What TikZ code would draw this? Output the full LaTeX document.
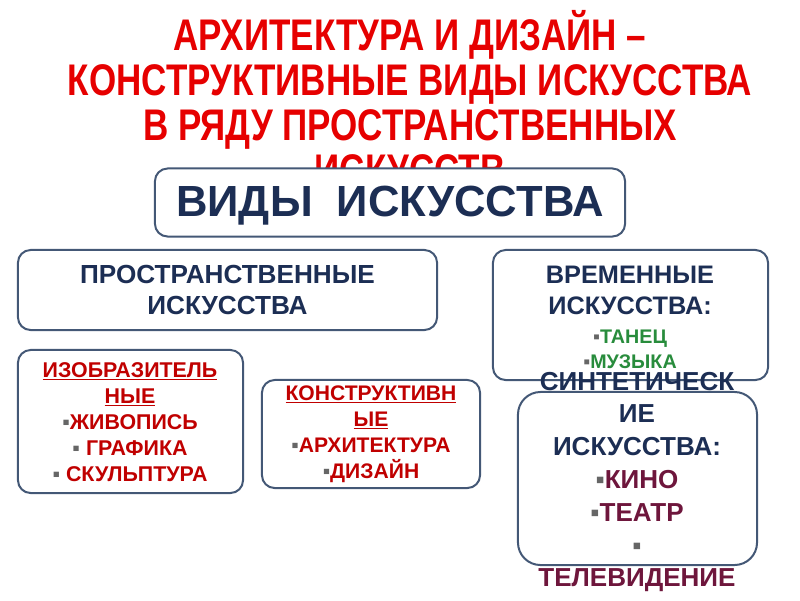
\documentclass[tikz,border=0pt]{standalone}
\usepackage{fontspec}
\setmainfont{Liberation Sans}
\newfontfamily\narrowfont[FakeStretch=0.79]{Liberation Sans}
\definecolor{titlered}{RGB}{230,0,0}
\definecolor{itemred}{RGB}{192,0,0}
\definecolor{boxblue}{RGB}{68,88,118}
\definecolor{headnavy}{RGB}{28,46,84}
\definecolor{itemgreen}{RGB}{40,140,60}
\definecolor{itemmaroon}{RGB}{110,22,60}
\newcommand{\sqb}{{\color{gray!80!black}▪}}

\begin{document}
\begin{tikzpicture}[
  x=0.025cm, y=-0.025cm,
  artbox/.style={draw=boxblue, fill=white, rounded corners=9pt,
                 line width=0.5mm, inner sep=0pt},
  headtext/.style={text=headnavy, font=\bfseries, align=center},
  redtext/.style={text=itemred, align=center,
                  font=\bfseries\fontsize{15.2}{18.5}\selectfont}
]
  \useasboundingbox (0,0) rectangle (800,600);

  % title
  \node[text=titlered, align=center,
        font=\narrowfont\bfseries\fontsize{31.5}{32}\selectfont] (title) at (410,98)
    {АРХИТЕКТУРА И ДИЗАЙН –\\КОНСТРУКТИВНЫЕ ВИДЫ ИСКУССТВА\\
     В РЯДУ ПРОСТРАНСТВЕННЫХ\\ИСКУССТВ};

  % boxes
  \node[artbox, minimum width=11.75cm, minimum height=1.7cm] (vidy) at (390,202.5) {};
  \node[artbox, minimum width=10.475cm, minimum height=2cm] (prostr) at (227.5,290) {};
  \node[artbox, minimum width=6.875cm, minimum height=3.25cm] (vrem) at (630.5,315) {};
  \node[artbox, minimum width=5.625cm, minimum height=3.575cm] (izobr) at (130.5,421.5) {};
  \node[artbox, minimum width=5.45cm, minimum height=2.7cm] (konstr) at (371,434) {};
  \node[artbox, rounded corners=16pt, minimum width=5.975cm,
        minimum height=4.325cm] (synt) at (637.5,478.5) {};

  % texts
  \node[headtext, font=\bfseries\fontsize{31}{31}\selectfont] (vidytext) at (390,206)
    {ВИДЫ\ \ ИСКУССТВА};
  \node[headtext, font=\bfseries\fontsize{18.6}{21.5}\selectfont] (prostrtext) at (prostr)
    {ПРОСТРАНСТВЕННЫЕ\\ИСКУССТВА};
  \node[headtext, font=\bfseries\fontsize{18}{22.5}\selectfont] (vremtext) at (630,317)
    {ВРЕМЕННЫЕ\\ИСКУССТВА:\\[-2pt]
     {\color{itemgreen}\fontsize{14}{16}\selectfont\sqb ТАНЕЦ}\\[-5pt]
     {\color{itemgreen}\fontsize{14}{16}\selectfont\sqb МУЗЫКА}};
  \node[redtext] (izobrtext) at (130,422)
    {\underline{ИЗОБРАЗИТЕЛЬ}\\\underline{НЫЕ}\\\sqb ЖИВОПИСЬ\\\sqb\ ГРАФИКА\\\sqb\ СКУЛЬПТУРА};
  \node[redtext, font=\bfseries\fontsize{15}{18.5}\selectfont] (konstrtext) at (371,434)
    {\underline{КОНСТРУКТИВН}\\\underline{ЫЕ}\\\sqb АРХИТЕКТУРА\\\sqb ДИЗАЙН};
  \node[headtext, font=\bfseries\fontsize{18.5}{23.3}\selectfont] (synttext) at (637,482)
    {СИНТЕТИЧЕСК\\ИЕ\\ИСКУССТВА:\\
     {\color{itemmaroon}\sqb КИНО}\\{\color{itemmaroon}\sqb ТЕАТР}\\
     {\color{itemmaroon}\sqb}\\{\color{itemmaroon}ТЕЛЕВИДЕНИЕ}};
\end{tikzpicture}
\end{document}
